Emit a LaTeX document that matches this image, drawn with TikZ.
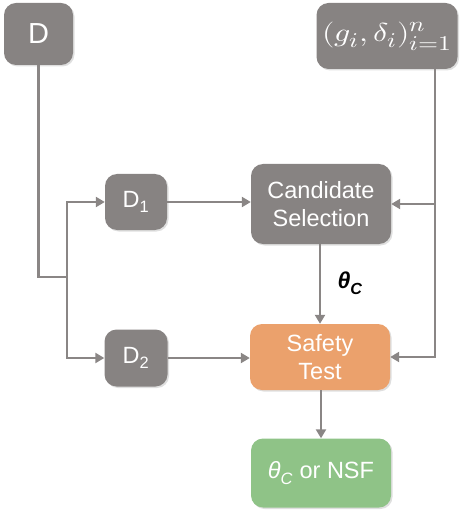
\documentclass[tikz,border=0pt]{standalone}
\usepackage{graphicx}
\usepackage{fontspec}
\usepackage{unicode-math}
\setmainfont{Liberation Sans}
\setmathfont{Latin Modern Math}
\DeclareMathSizes{26}{26}{21}{16}
\usetikzlibrary{arrows.meta,shadows}
\definecolor{boxgray}{RGB}{135,131,130}
\definecolor{linegray}{RGB}{138,134,133}
\definecolor{safeorange}{RGB}{235,161,108}
\definecolor{outgreen}{RGB}{143,195,135}
\tikzset{
  box/.style={fill=boxgray, text=white, rounded corners=12pt, align=center, inner sep=0pt,
    font=\fontsize{23.5}{28}\selectfont,
    drop shadow={opacity=0.25, shadow xshift=1.5pt, shadow yshift=-1.5pt}},
  wire/.style={draw=linegray, line width=2.5pt},
  arr/.style={wire, -{Triangle[length=9pt,width=10pt]}}
}
\begin{document}
\begin{tikzpicture}[x=1pt, y=-1pt]
        \useasboundingbox (0,0) rectangle (466,518);
        \node[box, minimum width=69pt, minimum height=62pt, font=\fontsize{29}{29}\selectfont] (D) at (38.5,34) {D};
        \node[box, minimum width=141pt, minimum height=66pt, font=\fontsize{26}{26}\selectfont] (g) at (387,36) {\scalebox{1.22}[1]{$(g_i,\delta_i)_{i=1}^n$}};
        \node[box, minimum width=62pt, minimum height=56pt] (D1) at (136,202) {D\textsubscript{1}};
        \node[box, minimum width=63pt, minimum height=57pt] (D2) at (136,358) {D\textsubscript{2}};
        \node[box, minimum width=140pt, minimum height=80pt] (CS) at (321,204) {Candidate\\Selection};
        \node[box, fill=safeorange, minimum width=140pt, minimum height=66pt] (ST) at (320,357) {Safety\\Test};
        \node[box, fill=outgreen, minimum width=140pt, minimum height=69pt] (out) at (321,473) {{\itshape θ\textsubscript{C}} or NSF};
        \node[font=\bfseries\itshape\fontsize{23}{23}\selectfont] (thetaC) at (350,283) {θ\textsubscript{C}};
        \coordinate (split) at (67,277);
        \coordinate (rt) at (435,358);
        \draw[wire] (D.south) |- (split);
        \draw[arr] (split) |- (D1.west);
        \draw[arr] (split) |- (D2.west);
        \draw[arr] (D1.east) -- (D1.east -| CS.west);
        \draw[arr] (D2.east) -- (D2.east -| ST.west);
        \draw[arr] (CS.south -| ST.north) -- (ST.north);
        \draw[arr] (ST.south -| out.north) -- (out.north);
        \draw[arr] (g.south -| rt) |- (ST.east);
        \draw[arr] (CS.east -| rt) -- (CS.east);
    \end{tikzpicture}
\end{document}
